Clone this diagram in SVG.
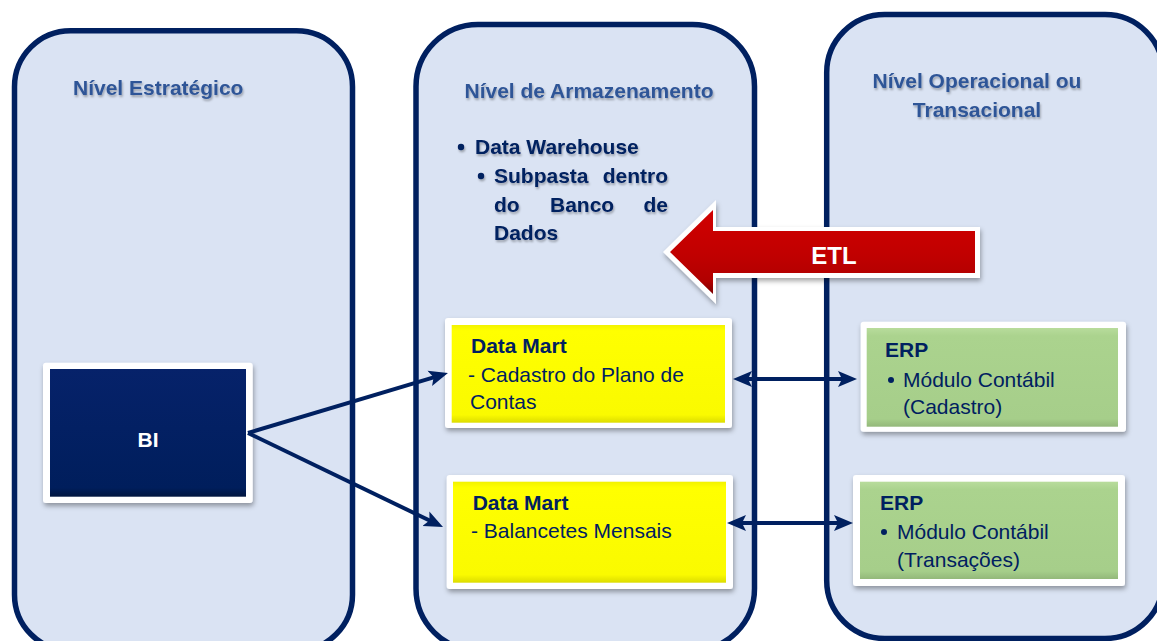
<svg xmlns="http://www.w3.org/2000/svg" width="1157" height="641" viewBox="0 0 1157 641">
<defs>
<style>
.panel{fill:#DAE3F3;stroke:#002060;stroke-width:5.5}
.title{font-family:"Liberation Sans",Arial,sans-serif;font-weight:bold;font-size:21px;fill:#2F5597}
.body{font-family:"Liberation Sans",Arial,sans-serif;font-size:21px;fill:#002060}
.b{font-weight:bold}
.frame{fill:#FFFFFF}
.conn{fill:none;stroke:#002060;stroke-width:4}
</style>
<filter id="sh" x="-10%" y="-10%" width="125%" height="130%">
<feDropShadow dx="1" dy="3" stdDeviation="2.5" flood-color="#000" flood-opacity="0.35"/>
</filter>
<filter id="tsh" x="-5%" y="-20%" width="110%" height="160%">
<feDropShadow dx="1" dy="2" stdDeviation="1.2" flood-color="#000" flood-opacity="0.3"/>
</filter>
<linearGradient id="yel" x1="0" y1="0" x2="0" y2="1">
<stop offset="0" stop-color="#F2F200"/><stop offset="0.06" stop-color="#FFFF00"/><stop offset="0.92" stop-color="#FAFA00"/><stop offset="1" stop-color="#DCDC00"/>
</linearGradient>
<linearGradient id="grn" x1="0" y1="0" x2="0" y2="1">
<stop offset="0" stop-color="#B8DC9C"/><stop offset="0.08" stop-color="#ABD38E"/><stop offset="0.92" stop-color="#A6CE8A"/><stop offset="1" stop-color="#93B87A"/>
</linearGradient>
<linearGradient id="nav" x1="0" y1="0" x2="0" y2="1">
<stop offset="0" stop-color="#06226A"/><stop offset="0.93" stop-color="#001E5C"/><stop offset="1" stop-color="#00153F"/>
</linearGradient>
<linearGradient id="red" x1="0" y1="0" x2="0" y2="1">
<stop offset="0" stop-color="#D10000"/><stop offset="0.55" stop-color="#C00000"/><stop offset="0.85" stop-color="#B00000"/><stop offset="1" stop-color="#7A0000"/>
</linearGradient>
<marker id="ah" markerUnits="userSpaceOnUse" markerWidth="20" markerHeight="18" viewBox="0 0 20 18" refX="11" refY="9" orient="auto-start-reverse">
<path d="M0,1 L19,9 L0,17 L4,9 Z" fill="#002060"/>
</marker>
</defs>

<g id="panel-estrategico">
<rect class="panel" x="14.5" y="30.7" width="338" height="620" rx="56"/>
<text class="title" x="73" y="95" filter="url(#tsh)">Nível Estratégico</text>
</g>

<g id="panel-armazenamento">
<rect class="panel" x="416" y="24.5" width="338.5" height="626" rx="62"/>
<text class="title" x="589" y="98" text-anchor="middle" filter="url(#tsh)">Nível de Armazenamento</text>
<g filter="url(#tsh)">
<circle cx="461" cy="147" r="3.2" fill="#002060"/>
<text class="body b" x="475" y="154">Data Warehouse</text>
<circle cx="481" cy="176" r="3.2" fill="#002060"/>
<text class="body b" x="494" y="183">Subpasta</text>
<text class="body b" x="668" y="183" text-anchor="end">dentro</text>
<text class="body b" x="494" y="212">do</text>
<text class="body b" x="550" y="212">Banco</text>
<text class="body b" x="668" y="212" text-anchor="end">de</text>
<text class="body b" x="494" y="240">Dados</text>
</g>
</g>

<g id="panel-operacional">
<rect class="panel" x="826.7" y="14.5" width="336.3" height="624" rx="58"/>
<text class="title" x="977" y="88" text-anchor="middle" filter="url(#tsh)">Nível Operacional ou</text>
<text class="title" x="977" y="117" text-anchor="middle" filter="url(#tsh)">Transacional</text>
</g>

<g id="etl">
<polygon points="663,252 716,200 716,227 980,227 980,278 716,278 716,304" fill="#FFFFFF" filter="url(#sh)"/>
<polygon points="670,252 713,210 713,231 975,231 975,273 713,273 713,294" fill="url(#red)"/>
<text x="834" y="264" text-anchor="middle" font-family="Liberation Sans, Arial, sans-serif" font-weight="bold" font-size="24" fill="#FFFFFF">ETL</text>
</g>

<g id="bi">
<rect class="frame" x="43" y="362.7" width="209.7" height="140.3" rx="3" filter="url(#sh)"/>
<rect x="50" y="369" width="196" height="127.7" fill="url(#nav)"/>
<text x="148" y="447" text-anchor="middle" font-family="Liberation Sans, Arial, sans-serif" font-weight="bold" font-size="21" fill="#FFFFFF">BI</text>
</g>

<g id="datamart-cadastro">
<rect class="frame" x="445" y="318" width="287" height="110" rx="3" filter="url(#sh)"/>
<rect x="451.7" y="325" width="273.3" height="97.7" fill="url(#yel)"/>
<text class="body b" x="471" y="353">Data Mart</text>
<text class="body" x="468" y="381.5">- Cadastro do Plano de</text>
<text class="body" x="470" y="409">Contas</text>
</g>

<g id="datamart-balancetes">
<rect class="frame" x="446.7" y="475" width="286.3" height="114" rx="3" filter="url(#sh)"/>
<rect x="453" y="481.7" width="273" height="101" fill="url(#yel)"/>
<text class="body b" x="472.7" y="510">Data Mart</text>
<text class="body" x="471" y="537.5">- Balancetes Mensais</text>
</g>

<g id="erp-cadastro">
<rect class="frame" x="860.7" y="321.7" width="265.3" height="110" rx="3" filter="url(#sh)"/>
<rect x="866.7" y="328" width="251.3" height="98.7" fill="url(#grn)"/>
<text class="body b" x="885" y="357">ERP</text>
<circle cx="891" cy="380" r="3" fill="#002060"/>
<text class="body" x="903" y="386.5">Módulo Contábil</text>
<text class="body" x="903" y="414">(Cadastro)</text>
</g>

<g id="erp-transacoes">
<rect class="frame" x="853" y="475" width="272" height="111" rx="3" filter="url(#sh)"/>
<rect x="860" y="481.7" width="258" height="97.3" fill="url(#grn)"/>
<text class="body b" x="880" y="510">ERP</text>
<circle cx="884" cy="532" r="3" fill="#002060"/>
<text class="body" x="897" y="538.5">Módulo Contábil</text>
<text class="body" x="897" y="566.5">(Transações)</text>
</g>

<g id="connectors">
<path class="conn" d="M248,433 L440.3,375.3" marker-end="url(#ah)"/>
<path class="conn" d="M248,433 L435.8,523.5" marker-end="url(#ah)"/>
<path class="conn" d="M741,379 L849,379" marker-start="url(#ah)" marker-end="url(#ah)"/>
<path class="conn" d="M735,523 L845,523" marker-start="url(#ah)" marker-end="url(#ah)"/>
</g>
</svg>
